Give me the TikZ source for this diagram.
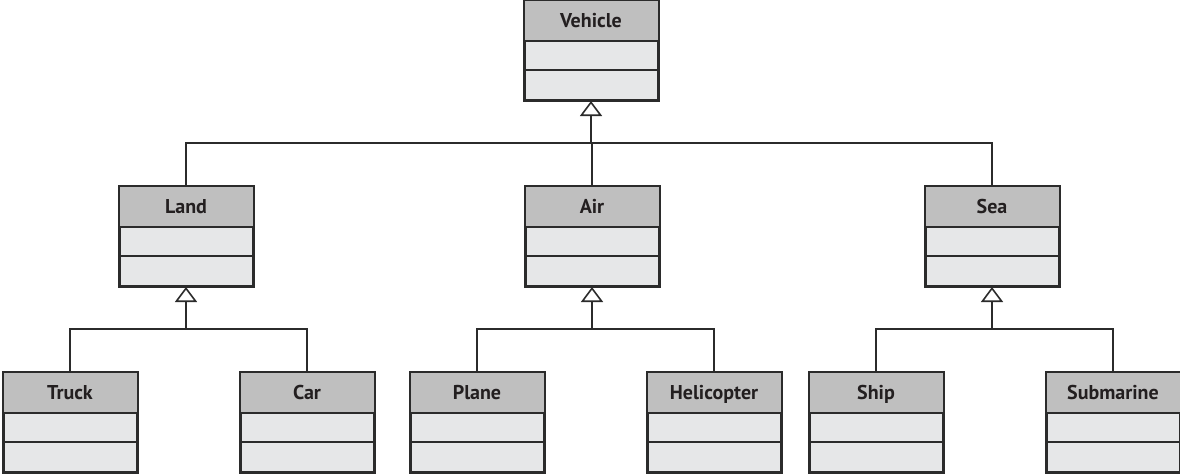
\documentclass[tikz,border=0pt]{standalone}
\usepackage{fontspec}
\setmainfont{PT Sans}
\usetikzlibrary{arrows.meta}
\definecolor{headgray}{HTML}{BFBFBF}
\definecolor{bandgray}{HTML}{E6E7E8}
\definecolor{inkgray}{HTML}{2B2B2B}
\definecolor{textgray}{HTML}{231F20}
\tikzset{
  classbox/.style={draw=inkgray, line width=2pt, fill=bandgray, rectangle,
    minimum width=133pt, minimum height=99pt, inner sep=0pt},
  classname/.style={font=\fontsize{20}{22}\selectfont\bfseries, text=textgray,
    inner sep=0pt, anchor=base},
  link/.style={draw=inkgray, line width=2pt},
  generalize/.style={link, -{Triangle[open, width=22pt, length=15pt, fill=white, line width=1.6pt]}},
}
% a class box: header compartment with the name, two empty compartments below
\newcommand{\umlclass}[4]{%
  \node[classbox] (#1) at (#2,#3) {};
  \fill[headgray] ([shift={(1pt,-1pt)}]#1.north west) rectangle ([shift={(-1pt,-41pt)}]#1.north east);
  \draw[link] ([yshift=-41pt]#1.north west) -- ([yshift=-41pt]#1.north east);
  \draw[link] ([yshift=-70pt]#1.north west) -- ([yshift=-70pt]#1.north east);
  \draw[draw=inkgray, line width=2pt] (#1.north west) rectangle (#1.south east);
  \node[classname] (#1-name) at ([yshift=-27pt]#1.north) {#4};
}
\begin{document}
\begin{tikzpicture}[x=1pt, y=-1pt]
\useasboundingbox (0,0) rectangle (1180,474);

\umlclass{vehicle}{591}{50.5}{Vehicle}
\umlclass{land}{186}{236.5}{Land}
\umlclass{air}{592}{236.5}{Air}
\umlclass{sea}{992}{236.5}{Sea}
\umlclass{truck}{70}{422.5}{Truck}
\umlclass{car}{307}{422.5}{Car}
\umlclass{plane}{477}{422.5}{Plane}
\umlclass{heli}{714}{422.5}{Helicopter}
\umlclass{ship}{876}{422.5}{Ship}
\umlclass{sub}{1113}{422.5}{Submarine}

% bus lines of each generalization set
\coordinate (topbus) at (591,143);
\coordinate (landbus) at (186,329);
\coordinate (airbus) at (592,329);
\coordinate (seabus) at (992,329);

% Vehicle <- Land, Air, Sea
\draw[generalize] (topbus) -- (vehicle.south);
\draw[link] (land.north) -- (land.north |- topbus) -- (sea.north |- topbus) -- (sea.north);
\draw[link] (air.north) -- (air.north |- topbus);

% Land <- Truck, Car
\draw[generalize] (landbus) -- (land.south);
\draw[link] (truck.north) -- (truck.north |- landbus) -- (car.north |- landbus) -- (car.north);

% Air <- Plane, Helicopter
\draw[generalize] (airbus) -- (air.south);
\draw[link] (plane.north) -- (plane.north |- airbus) -- (heli.north |- airbus) -- (heli.north);

% Sea <- Ship, Submarine
\draw[generalize] (seabus) -- (sea.south);
\draw[link] (ship.north) -- (ship.north |- seabus) -- (sub.north |- seabus) -- (sub.north);
\end{tikzpicture}
\end{document}
